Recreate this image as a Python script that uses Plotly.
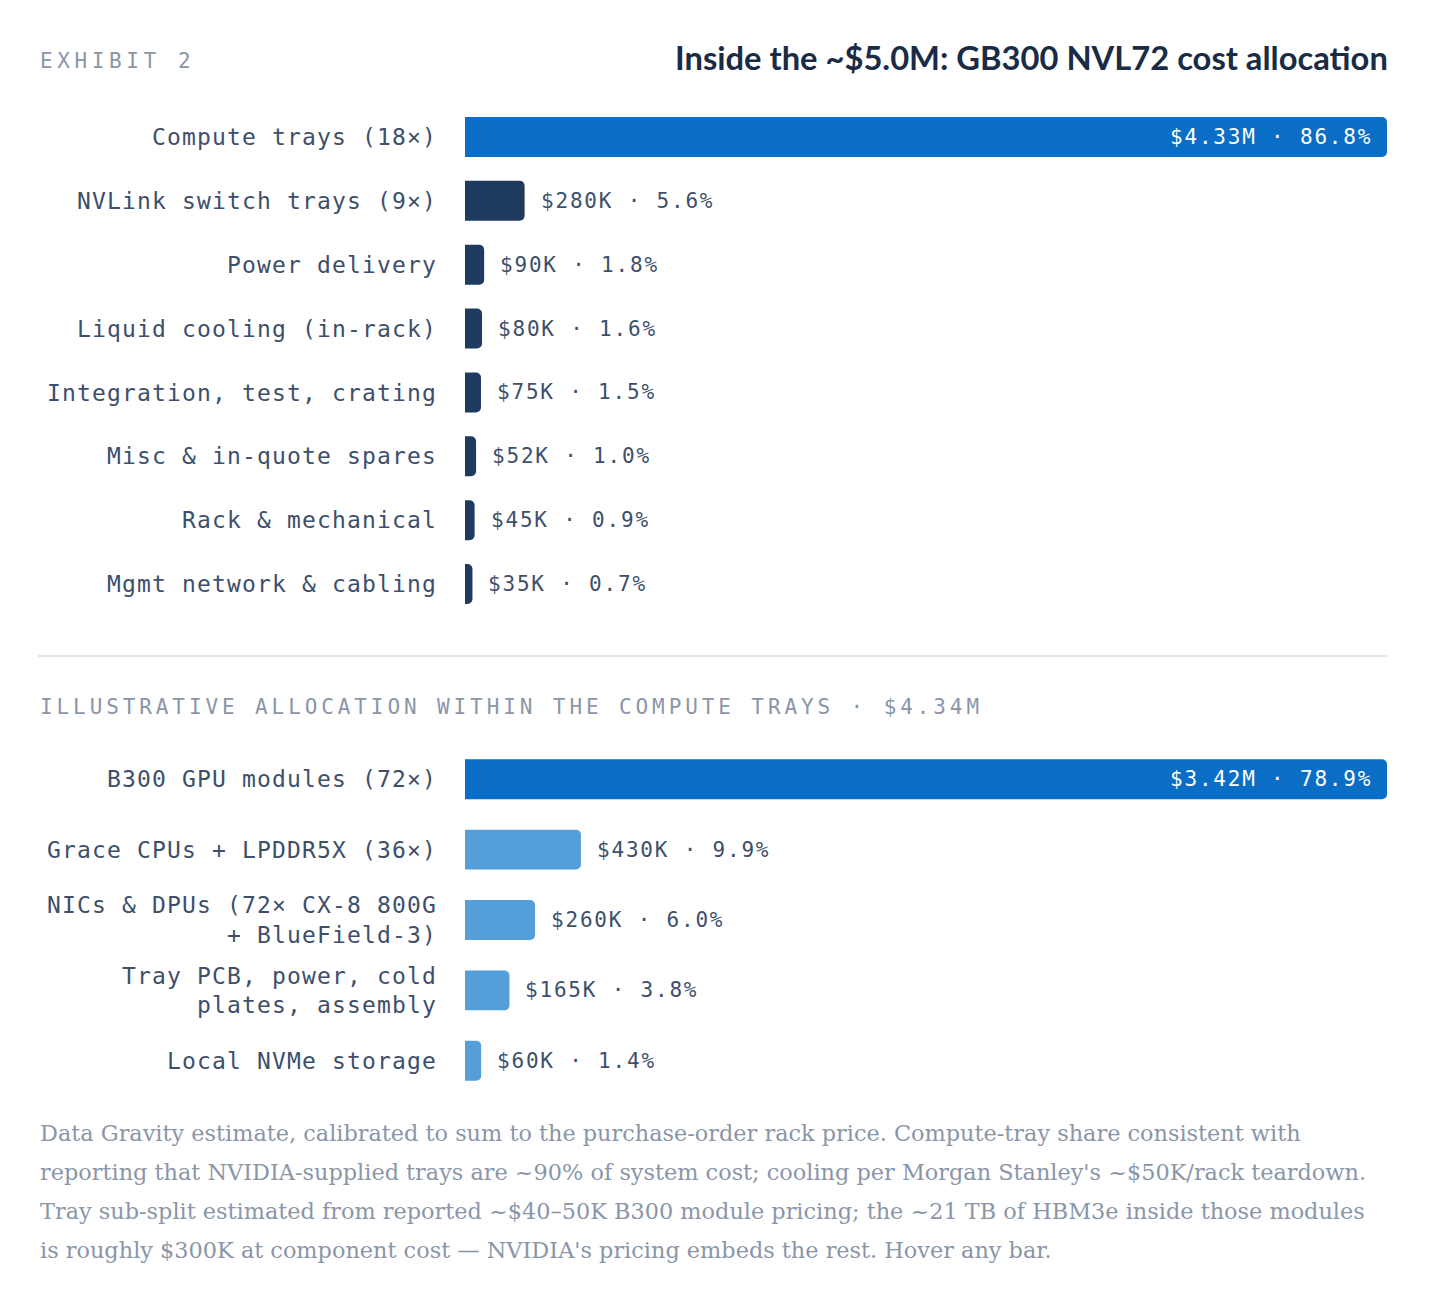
import plotly.graph_objects as go

#---------------------Daten---------------------#

rack_labels = [
    "Compute trays (18×)",
    "NVLink switch trays (9×)",
    "Power delivery",
    "Liquid cooling (in-rack)",
    "Integration, test, crating",
    "Misc & in-quote spares",
    "Rack & mechanical",
    "Mgmt network & cabling",
]
rack_values = [4330000, 280000, 90000, 80000, 75000, 52000, 45000, 35000]
rack_shares = [86.8, 5.6, 1.8, 1.6, 1.5, 1.0, 0.9, 0.7]

tray_labels = [
    "B300 GPU modules (72×)",
    "Grace CPUs + LPDDR5X (36×)",
    "NICs & DPUs (72× CX-8 800G<br>+ BlueField-3)",
    "Tray PCB, power, cold<br>plates, assembly",
    "Local NVMe storage",
]
tray_values = [3420000, 430000, 260000, 165000, 60000]
tray_shares = [78.9, 9.9, 6.0, 3.8, 1.4]

exhibit_label = "EXHIBIT 2"
title_text = "Inside the ~$5.0M: GB300 NVL72 cost allocation"
sub_heading = "ILLUSTRATIVE ALLOCATION WITHIN THE COMPUTE TRAYS · $4.34M"
footer_lines = [
    "Data Gravity estimate, calibrated to sum to the purchase-order rack price. Compute-tray share consistent with",
    "reporting that NVIDIA-supplied trays are ~90% of system cost; cooling per Morgan Stanley's ~$50K/rack teardown.",
    "Tray sub-split estimated from reported ~$40–50K B300 module pricing; the ~21 TB of HBM3e inside those modules",
    "is roughly $300K at component cost — NVIDIA's pricing embeds the rest. Hover any bar.",
]

#---------------------Styles---------------------#

PAGE_W, PAGE_H = 1438, 1294
BODY = 8  # default body margin of the html page
W, H = PAGE_W - 2 * BODY, PAGE_H - 2 * BODY
MONO = "DejaVu Sans Mono"
HIGHLIGHT = "#0A6EC6"
NAVY = "#1F3A5F"
LIGHT = "#549EDA"
LABEL_COL = "#3D4F6B"
GREY = "#8A96A8"


def px_x(p):
    # page pixel -> paper x
    return (p - BODY) / W


def px_y(p):
    # page pixel (von oben) -> paper y
    return 1 - (p - BODY) / H


def spaced(txt, px):
    return f"<span style='letter-spacing:{px}px'>{txt}</span>"


def money(v):
    if v >= 1e6:
        return f"${v / 1e6:.2f}M"
    return f"${v / 1e3:.0f}K"


x_dom = [px_x(465), px_x(1387)]

fig = go.Figure()
annotations = []


def add_block(labels, values, shares, base_col, xa, ya, bar_w):
    cols = [HIGHLIGHT if i == 0 else base_col for i in range(len(values))]
    plain = [l.replace("<br>", " ") for l in labels]
    fig.add_trace(go.Bar(
        x=values, y=labels, orientation="h", xaxis=xa, yaxis=ya,
        marker=dict(color=cols, line=dict(width=0)), width=bar_w,
        customdata=list(zip(plain, [money(v) for v in values], shares)),
        hovertemplate="%{customdata[0]}<br>%{customdata[1]} · %{customdata[2]:.1f}%<extra></extra>",
        showlegend=False,
    ))
    top = max(values)
    for lab, v, s in zip(labels, values, shares):
        txt = spaced(f"{money(v)} · {s:.1f}%", 1.8)
        inside = v / top > 0.5
        annotations.append(dict(
            x=v, y=lab, xref=xa, yref=ya, text=txt, showarrow=False,
            xanchor="right" if inside else "left",
            xshift=-13 if inside else 14,
            font=dict(family=MONO, size=21, color="white" if inside else LABEL_COL),
        ))


add_block(rack_labels, rack_values, rack_shares, NAVY, "x", "y", 0.625)
add_block(tray_labels, tray_values, tray_shares, LIGHT, "x2", "y2", 0.567)

axis_y = dict(
    type="category", autorange="reversed", showgrid=False, zeroline=False,
    showline=False, ticks="", ticklabelstandoff=27, fixedrange=True,
    tickfont=dict(family=MONO, size=23, color=LABEL_COL),
)

fig.update_layout(
    width=W, height=H,
    margin=dict(l=0, r=0, t=0, b=0),
    paper_bgcolor="white", plot_bgcolor="white",
    barcornerradius=5,
    hoverlabel=dict(font=dict(family=MONO, size=14)),
    xaxis=dict(domain=x_dom, range=[0, max(rack_values)], visible=False, fixedrange=True),
    xaxis2=dict(domain=x_dom, range=[0, max(tray_values)], visible=False, fixedrange=True, anchor="y2"),
    yaxis=dict(domain=[px_y(616), px_y(105)], anchor="x",
               tickvals=rack_labels, ticktext=[spaced(l, 1.15) for l in rack_labels], **axis_y),
    yaxis2=dict(domain=[px_y(1096), px_y(744)], anchor="x2",
                tickvals=tray_labels, ticktext=[spaced(l, 1.15) for l in tray_labels], **axis_y),
)

# Kopfzeile
annotations.append(dict(
    x=px_x(38), y=px_y(61), xref="paper", yref="paper", xanchor="left", yanchor="middle",
    text=spaced(exhibit_label, 4.6), showarrow=False,
    font=dict(family=MONO, size=21, color=GREY),
))
annotations.append(dict(
    x=px_x(1390), y=px_y(57), xref="paper", yref="paper", xanchor="right", yanchor="middle",
    text=f"<b>{title_text}</b>", showarrow=False,
    font=dict(family="Lato", size=32.7, color="#1A2B45"),
))
annotations.append(dict(
    x=px_x(38), y=px_y(707), xref="paper", yref="paper", xanchor="left", yanchor="middle",
    text=spaced(sub_heading, 3.9), showarrow=False,
    font=dict(family=MONO, size=21, color=GREY),
))

# Fussnote
for i, line in enumerate(footer_lines):
    annotations.append(dict(
        x=px_x(38), y=px_y(1133 + 39 * i), xref="paper", yref="paper",
        xanchor="left", yanchor="middle", text=line, showarrow=False,
        font=dict(family="DejaVu Serif", size=22.4, color=GREY),
    ))

fig.update_layout(
    annotations=annotations,
    shapes=[dict(type="line", xref="paper", yref="paper",
                 x0=px_x(38), x1=px_x(1387), y0=px_y(656), y1=px_y(656),
                 line=dict(color="#E4E8EE", width=2))],
)

fig.write_html("out.html")
